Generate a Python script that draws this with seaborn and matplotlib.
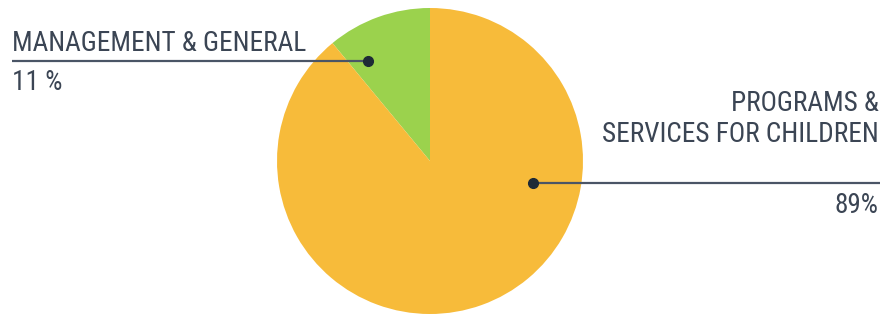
import matplotlib
matplotlib.use("Agg")
import matplotlib.pyplot as plt
import seaborn as sns
from matplotlib import font_manager

sns.set_style("white")

# data
categories = ["MANAGEMENT & GENERAL", "PROGRAMS &\nSERVICES FOR CHILDREN"]
shares = [11, 89]
share_labels = ["11 %", "89%"]
colors = ["#9bd24d", "#f7bb3a"]

names = {f.name for f in font_manager.fontManager.ttflist}
fsize = 18.2
fam = "Roboto"
for cand in ["Roboto Condensed", "Liberation Sans Narrow"]:
    if cand in names:
        fam, fsize = cand, 19.6
        break
plt.rcParams["font.family"] = [fam, "DejaVu Sans"]
text_color = "#3b4554"
line_color = "#4a5566"

W, H = 881, 317
fig = plt.figure(figsize=(W / 100, H / 100), dpi=100)
ax = fig.add_axes([0, 0, 1, 1])

ax.pie(shares, colors=colors, startangle=90, counterclock=True,
       center=(430, H - 161), radius=153, frame=True,
       wedgeprops=dict(linewidth=0))
ax.set_xlim(0, W)
ax.set_ylim(0, H)
ax.set_aspect("equal")
ax.axis("off")

# left label
y0 = H - 61
ax.plot([12, 368], [y0, y0], color=line_color, lw=1.6, solid_capstyle="butt")
ax.plot(368, y0, "o", color="#1e2a36", ms=7)
ax.text(12, y0 + 4, categories[0], ha="left", va="bottom", fontsize=fsize,
        color=text_color)
ax.text(12, y0 - 8, share_labels[0], ha="left", va="top", fontsize=fsize,
        color=text_color)

# right label
y1 = H - 183
ax.plot([533, 880], [y1, y1], color=line_color, lw=1.6, solid_capstyle="butt")
ax.plot(533, y1, "o", color="#1e2a36", ms=7)
ax.text(879, H - 148, categories[1], ha="right", va="bottom", fontsize=fsize,
        color=text_color, linespacing=1.2)
ax.text(879, y1 - 9, share_labels[1], ha="right", va="top", fontsize=fsize,
        color=text_color)

fig.savefig("out.png", dpi=100)
